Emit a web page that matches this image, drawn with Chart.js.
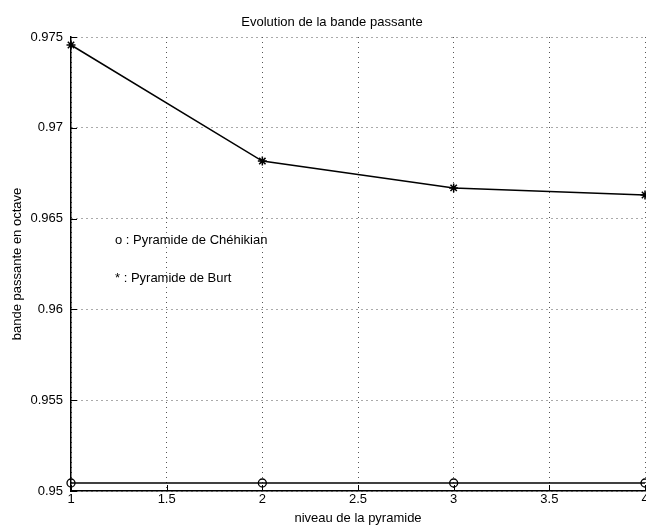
<!DOCTYPE html>
<html>
<head>
<meta charset="utf-8">
<script src="https://cdn.jsdelivr.net/npm/chart.js@4/dist/chart.umd.min.js"></script>
<style>
html,body{margin:0;padding:0;background:#fff;}
#wrap{width:646px;height:528px;}
</style>
</head>
<body>
<div id="wrap"><canvas id="c" width="646" height="528"></canvas></div>
<script>
// Data
const levels = [1, 2, 3, 4];
const burtValues = [0.97456, 0.96817, 0.96669, 0.96630];
const chehikianValues = [0.95044, 0.95044, 0.95044, 0.95044];
const xTicks = [1, 1.5, 2, 2.5, 3, 3.5, 4];
const yTicks = [0.95, 0.955, 0.96, 0.965, 0.97, 0.975];
const titleText = 'Evolution de la bande passante';
const xTitle = 'niveau de la pyramide';
const yTitle = 'bande passante en octave';
const legendLines = ['o : Pyramide de Chéhikian', '* : Pyramide de Burt'];

const FONT = "'Liberation Sans', Arial, Helvetica, sans-serif";
Chart.defaults.color = '#000';
Chart.defaults.font.family = FONT;
Chart.defaults.font.size = 13;

const toXY = (xs, ys) => xs.map((x, i) => ({x: x, y: ys[i]}));

const extras = {
  id: 'extras',
  afterDraw(chart) {
    const ctx = chart.ctx;
    const xs = chart.scales.x, ys = chart.scales.y;
    const a = chart.chartArea;
    ctx.save();
    ctx.strokeStyle = '#000';
    ctx.lineWidth = 1;
    // inward tick marks
    xTicks.forEach(v => {
      const px = Math.round(xs.getPixelForValue(v)) + 0.5;
      ctx.beginPath(); ctx.moveTo(px, a.bottom); ctx.lineTo(px, a.bottom - 6); ctx.stroke();
    });
    yTicks.forEach(v => {
      const py = Math.round(ys.getPixelForValue(v)) + 0.5;
      ctx.beginPath(); ctx.moveTo(a.left, py); ctx.lineTo(a.left + 6, py); ctx.stroke();
    });
    ctx.fillStyle = '#000';
    ctx.textBaseline = 'middle';
    // title
    ctx.font = '13px ' + FONT;
    ctx.textAlign = 'center';
    ctx.fillText(titleText, 332, 22);
    // annotation legend text
    ctx.textAlign = 'left';
    ctx.fillText(legendLines[0], 115, 240);
    ctx.fillText(legendLines[1], 115, 278);
    ctx.restore();
  }
};

new Chart(document.getElementById('c'), {
  type: 'line',
  data: {
    datasets: [
      {
        label: 'Burt',
        data: toXY(levels, burtValues),
        borderColor: '#000',
        borderWidth: 1.5,
        pointStyle: 'star',
        pointRadius: 4.5,
        pointBorderWidth: 1.5,
        pointBorderColor: '#000',
        tension: 0,
        clip: false
      },
      {
        label: 'Chéhikian',
        data: toXY(levels, chehikianValues),
        borderColor: '#000',
        borderWidth: 1.5,
        pointStyle: 'circle',
        pointRadius: 4,
        pointBorderWidth: 1.3,
        pointBorderColor: '#000',
        pointBackgroundColor: 'rgba(255,255,255,0)',
        tension: 0,
        clip: false
      }
    ]
  },
  options: {
    responsive: false,
    animation: false,
    devicePixelRatio: 1,
    layout: {autoPadding: false, padding: {left: 0, right: 1, top: 37, bottom: 0}},
    plugins: {
      legend: {display: false},
      tooltip: {enabled: false},
      title: {display: false}
    },
    scales: {
      x: {
        type: 'linear',
        min: 1, max: 4,
        afterBuildTicks: s => { s.ticks = xTicks.map(v => ({value: v})); },
        afterFit: s => { s.height = 37; s.paddingLeft = 0; s.paddingRight = 0; },
        ticks: {
          padding: 1,
          maxRotation: 0,
          autoSkip: false,
          font: {size: 13, family: FONT},
          color: '#000',
          callback: v => String(v)
        },
        grid: {display: true, drawTicks: false, color: '#555', lineWidth: 1},
        border: {display: true, color: '#000', width: 1.5, dash: [1, 4]},
        title: {
          display: true,
          text: xTitle,
          font: {size: 13, family: FONT},
          color: '#000',
          padding: {top: 0, bottom: 2}
        }
      },
      y: {
        type: 'linear',
        min: 0.95, max: 0.975,
        afterBuildTicks: s => { s.ticks = yTicks.map(v => ({value: v})); },
        afterFit: s => { s.width = 71; s.paddingTop = 0; s.paddingBottom = 0; },
        ticks: {
          padding: 8,
          autoSkip: false,
          font: {size: 13, family: FONT},
          color: '#000',
          callback: v => String(Number(v.toFixed(3)))
        },
        grid: {display: true, drawTicks: false, color: '#555', lineWidth: 1},
        border: {display: true, color: '#000', width: 1.5, dash: [1, 4]},
        title: {
          display: true,
          text: yTitle,
          font: {size: 13, family: FONT},
          color: '#000',
          padding: {top: 10, bottom: 0}
        }
      }
    }
  },
  plugins: [extras]
});
</script>
</body>
</html>
